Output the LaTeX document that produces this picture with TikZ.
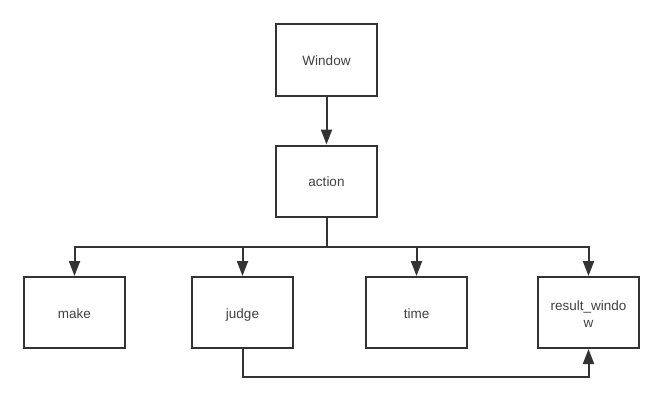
\documentclass[tikz,border=0pt]{standalone}
\usepackage{fontspec}
\setmainfont{Liberation Sans}
\usetikzlibrary{arrows.meta}
\definecolor{ink}{HTML}{333333}
\definecolor{txt}{HTML}{404040}
\begin{document}
\begin{tikzpicture}[x=1pt,y=-1pt,
  box/.style={draw=ink,line width=2pt,minimum width=101pt,minimum height=71pt,inner sep=0pt,
    font=\fontsize{13.5}{17}\selectfont,text=txt,align=center},
  onel/.style={box,text height=12pt,text depth=1pt},
  conn/.style={draw=ink,line width=2pt,-{Triangle[length=15pt,width=11pt]}}]
\useasboundingbox[fill=white] (0,0) rectangle (663,404);
\node[onel] (win) at (326.5,60) {Window};
\node[onel] (act) at (326.5,181) {action};
\node[onel] (make) at (74.5,312.5) {make};
\node[onel] (judge) at (242.5,312.5) {judge};
\node[onel] (time) at (416.5,312.5) {time};
\node[box] (res) at (588.5,312.5) {\rule{0pt}{13pt}result\_windo\\w};
\coordinate (bus) at (326.5,247);
\coordinate (low) at (0,377);
\draw[conn] (win) -- (act);
\draw[conn] (act.south) -- (bus) -| (make.north);
\draw[conn] (bus) -| (judge.north);
\draw[conn] (bus) -| (time.north);
\draw[conn] (bus) -| (res.north);
\draw[conn] (judge.south) |- (low -| res.south) -- (res.south);
\end{tikzpicture}
\end{document}
